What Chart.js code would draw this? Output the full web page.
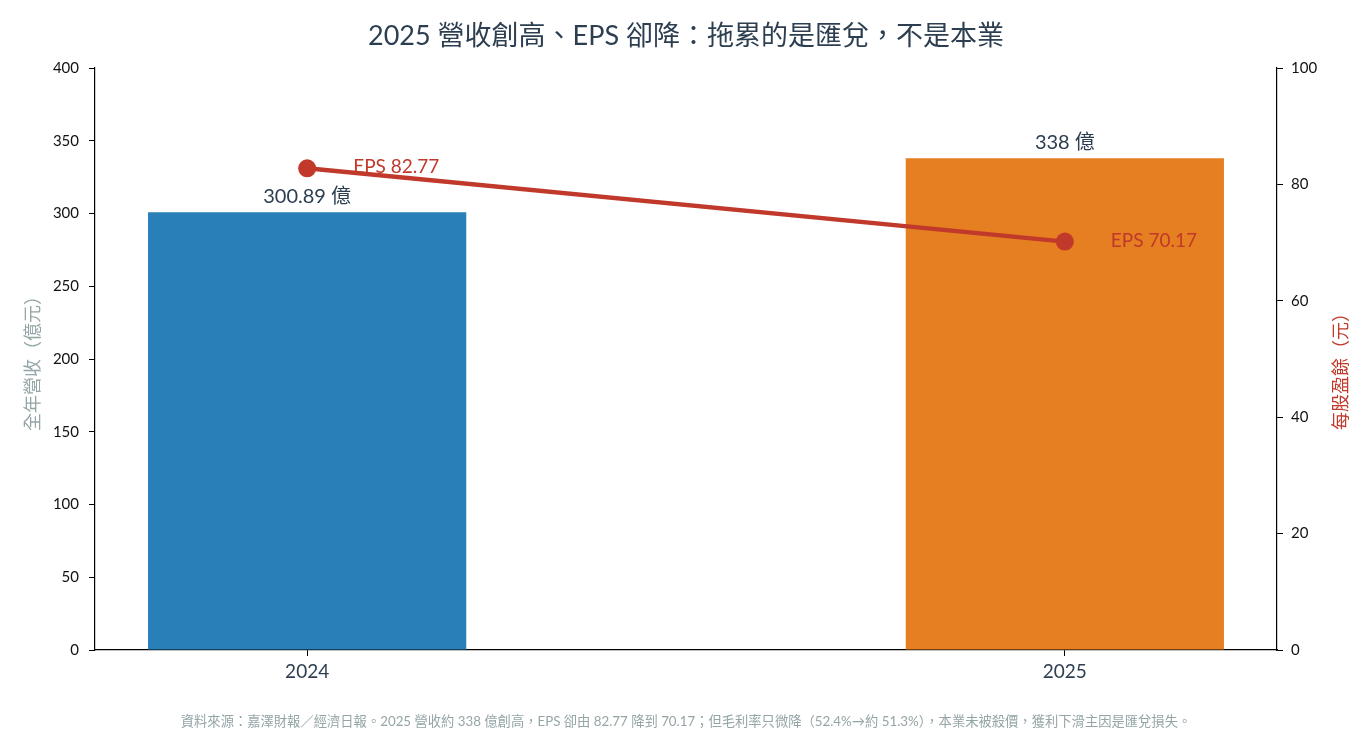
<!DOCTYPE html>
<html>
<head>
<meta charset="utf-8">
<script src="https://cdn.jsdelivr.net/npm/chart.js@4"></script>
<style>
  body { margin: 0; background: #fff; }
  #wrap { width: 1372px; height: 742px; }
</style>
</head>
<body>
<div id="wrap"><canvas id="chart"></canvas></div>
<script>
// data
const years = ["2024", "2025"];
const revenue = [300.89, 338];          // 億元
const revenueLabels = ["300.89 億", "338 億"];
const eps = [82.77, 70.17];             // 元
const epsLabels = ["EPS 82.77", "EPS 70.17"];
const leftTicks = [0, 50, 100, 150, 200, 250, 300, 350, 400];
const rightTicks = [0, 20, 40, 60, 80, 100];

const FONT = "Lato, 'Noto Sans CJK TC', sans-serif";
const TEXT = "#2c3e50";
const RED = "#c0392b";
const GRAY = "#95a5a6";

// value labels above bars + EPS labels + right axis title
const labelPlugin = {
    id: "labels",
    afterDatasetsDraw(chart) {
        const ctx = chart.ctx;
        ctx.save();
        const bars = chart.getDatasetMeta(0).data;
        ctx.font = "20px " + FONT;
        ctx.fillStyle = TEXT;
        ctx.textAlign = "center";
        ctx.textBaseline = "bottom";
        bars.forEach((b, i) => ctx.fillText(revenueLabels[i], b.x, b.y - 6));

        const pts = chart.getDatasetMeta(1).data;
        ctx.font = "19px " + FONT;
        ctx.fillStyle = RED;
        ctx.textAlign = "left";
        ctx.textBaseline = "middle";
        pts.forEach((p, i) => ctx.fillText(epsLabels[i], p.x + 46, p.y - 1));

        // right axis title reads bottom-to-top like the left one
        const area = chart.chartArea;
        ctx.translate(1341, (area.top + area.bottom) / 2 + 8);
        ctx.rotate(-Math.PI / 2);
        ctx.font = "18px " + FONT;
        ctx.textAlign = "center";
        ctx.fillText("每股盈餘（元）", 0, 0);
        ctx.restore();
    }
};

new Chart(document.getElementById("chart"), {
    type: "bar",
    data: {
        datasets: [
            {
                type: "bar",
                data: revenue.map((v, i) => ({ x: i, y: v })),
                backgroundColor: ["#2980b9", "#e67e22"],
                categoryPercentage: 0.42,
                barPercentage: 1,
                yAxisID: "y",
                order: 2
            },
            {
                type: "line",
                data: eps.map((v, i) => ({ x: i, y: v })),
                borderColor: RED,
                backgroundColor: RED,
                borderWidth: 4.5,
                pointRadius: 9,
                pointHoverRadius: 9,
                pointBorderWidth: 0,
                yAxisID: "y1",
                order: 1
            }
        ]
    },
    options: {
        responsive: true,
        maintainAspectRatio: false,
        animation: false,
        layout: { padding: 0 },
        plugins: {
            legend: { display: false },
            tooltip: { enabled: false },
            title: {
                display: true,
                text: "2025 營收創高、EPS 卻降：拖累的是匯兌，不是本業",
                color: TEXT,
                font: { family: FONT, size: 27, weight: "normal" },
                padding: { top: 20, bottom: 15.6 }
            },
            subtitle: {
                display: true,
                position: "bottom",
                text: "資料來源：嘉澤財報／經濟日報。2025 營收約 338 億創高，EPS 卻由 82.77 降到 70.17；但毛利率只微降（52.4%→約 51.3%），本業未被殺價，獲利下滑主因是匯兌損失。",
                color: GRAY,
                font: { family: FONT, size: 13.3 },
                padding: { top: 14, bottom: 12 }
            }
        },
        scales: {
            x: {
                type: "linear",
                offset: false,
                min: -0.28,
                max: 1.28,
                afterBuildTicks: s => { s.ticks = years.map((_, i) => ({ value: i })); },
                afterFit: s => { s.height = 50; },
                ticks: {
                    callback: v => years[v],
                    color: TEXT,
                    font: { family: FONT, size: 19 },
                    padding: 4
                },
                grid: { offset: false, drawOnChartArea: false, tickLength: 6, color: "#000" },
                border: { display: true, color: "#000", width: 1.2 }
            },
            y: {
                position: "left",
                min: 0,
                max: 400,
                afterBuildTicks: s => { s.ticks = leftTicks.map(v => ({ value: v })); },
                afterFit: s => { s.width = 95; },
                ticks: { color: "#111", font: { family: FONT, size: 15 }, padding: 10 },
                grid: { drawOnChartArea: false, tickLength: 6, color: "#000" },
                border: { display: true, color: "#000", width: 1.2 },
                title: {
                    display: true,
                    text: "全年營收（億元）",
                    color: GRAY,
                    font: { family: FONT, size: 18 },
                    padding: { top: 22, bottom: 0 }
                }
            },
            y1: {
                position: "right",
                min: 0,
                max: 100,
                afterBuildTicks: s => { s.ticks = rightTicks.map(v => ({ value: v })); },
                afterFit: s => { s.width = 95; },
                ticks: { color: "#111", font: { family: FONT, size: 15 }, padding: 8 },
                grid: { drawOnChartArea: false, tickLength: 6, color: "#000" },
                border: { display: true, color: "#000", width: 1.2 }
            }
        }
    },
    plugins: [labelPlugin]
});
</script>
</body>
</html>
